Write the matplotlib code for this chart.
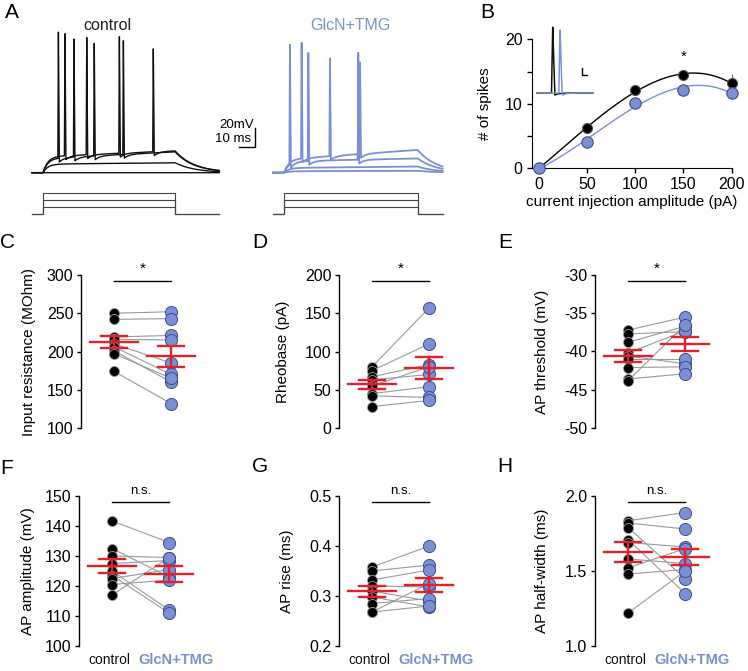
import numpy as np
import matplotlib
matplotlib.use('Agg')
import matplotlib.pyplot as plt
import matplotlib.transforms as mtrans

plt.rcParams['font.family'] = ['Liberation Sans', 'DejaVu Sans']
plt.rcParams['axes.unicode_minus'] = False

W, H = 748, 671
fig = plt.figure(figsize=(W / 100, H / 100), dpi=100)

BLUE = '#7b8fd4'
BLUE_EDGE = '#3f4f8c'
RED = '#e5202a'
LGRAY = '#9a9a9a'

# ---------------- data ----------------
groups = ['control', 'GlcN+TMG']

# Panel A (ms, mV above rest)
step_on_ms = 6.9
step_off_ms = [89.4, 90.4]
trace_end_ms = [117.0, 106.0]
right_offset_ms = 150.6
plateau_ctrl = [(0, 0), (9, 10.5), (15, 22), (17, 23)]
spikes_ctrl = [[], [], [16.5, 26.25, 38.9, 57.1], [20.6, 34.2, 54.6, 75.8]]
peaks_ctrl = [[], [], [148, 141, 138, 140], [148, 144, 145, 132]]
plateau_glcn = [(1.5, 2), (5, 6.5), (12, 15), (14, 24)]
spikes_glcn = [[], [], [10.6, 22.1, 53.3], [17.9, 35.6, 54.4]]
peaks_glcn = [[], [], [135, 127, 128], [137, 121, 117]]
stim_pA = [50, 100, 150]
scalebar_mV = 20
scalebar_ms = 10

# Panel B
curr_pA = [0, 50, 100, 150, 200]
spk_ctrl = [0, 6.2, 12.1, 14.5, 13.2]
spk_ctrl_sem = [0, 0.4, 0.5, 0.6, 1.4]
spk_glcn = [0, 4.1, 10.2, 12.2, 11.7]
spk_glcn_sem = [0, 0.5, 0.5, 0.6, 1.0]

# Panels C-H (paired values)
rin_ctrl = [250, 242, 219, 216, 210, 206, 201, 197, 174]
rin_glcn = [252, 243, 221, 215, 185, 170, 160, 165, 132]
rheo_ctrl = [80, 75, 67, 63, 55, 45, 42, 28]
rheo_glcn = [157, 110, 83, 70, 80, 54, 40, 36]
thr_ctrl = [-37.2, -37.7, -38.8, -40.2, -40.6, -41.0, -42.1, -43.6, -43.8]
thr_glcn = [-35.5, -37.4, -36.7, -37.3, -41.6, -41.0, -42.0, -42.9, -36.5]
amp_ctrl = [141.7, 132.5, 130.0, 127.5, 125.0, 123.5, 122.5, 120.5, 117.0]
amp_glcn = [134.5, 123.0, 129.5, 128.5, 112.0, 111.0, 125.5, 122.0, 129.5]
rise_ctrl = [0.358, 0.350, 0.332, 0.320, 0.310, 0.298, 0.285, 0.268, 0.268]
rise_glcn = [0.400, 0.362, 0.352, 0.318, 0.290, 0.278, 0.295, 0.280, 0.325]
hw_ctrl = [1.835, 1.82, 1.79, 1.71, 1.69, 1.58, 1.52, 1.48, 1.22]
hw_glcn = [1.89, 1.78, 1.45, 1.35, 1.66, 1.55, 1.65, 1.51, 1.50]


def ax_px(x0, y0, x1, y1):
    return fig.add_axes([x0 / W, 1 - y1 / H, (x1 - x0) / W, (y1 - y0) / H])


def ftxt(x, y, s, **kw):
    return fig.text(x / W, 1 - y / H, s, **kw)


def make_trace(t, on, off, p0, p1, spk, pk, tau_on=3.0, tau_off=12.0):
    v = np.zeros_like(t)
    dur = off - on
    during = (t >= on) & (t < off)
    lvl = p0 + (p1 - p0) * (t - on) / dur
    v[during] = (lvl * (1 - np.exp(-(t - on) / tau_on)))[during]
    v_off = p1 * (1 - np.exp(-dur / tau_on))
    after = t >= off
    v[after] = v_off * np.exp(-(t[after] - off) / tau_off)
    for ts, p in zip(spk, pk):
        base = np.interp(ts, t, v)
        rise = (t >= ts - 0.35) & (t < ts)
        v[rise] += (p - base) * (t[rise] - (ts - 0.35)) / 0.35
        fall = (t >= ts) & (t < ts + 0.6)
        v[fall] += (p - base) * (1 - (t[fall] - ts) / 0.6)
        ahp = (t >= ts + 0.6) & (t < off)
        v[ahp] -= 4 * np.exp(-(t[ahp] - ts - 0.6) / 3)
    return v


# ---------------- Panel A ----------------
axA = ax_px(30, 20, 445, 222)
axA.set_xlim(-1.25, 258.1)
axA.set_ylim(-51.9, 160.7)
axA.axis('off')

stim_base = -43.5
stim_scale = 22.5 / 150
for gi, (plats, spks, pks, col, lw) in enumerate([
        (plateau_ctrl, spikes_ctrl, peaks_ctrl, '#111111', 1.0),
        (plateau_glcn, spikes_glcn, peaks_glcn, BLUE, 1.3)]):
    off = step_off_ms[gi]
    tend = trace_end_ms[gi]
    x0 = right_offset_ms * gi
    t = np.linspace(0, tend, 6000)
    for (p0, p1), s, pk in zip(plats, spks, pks):
        v = make_trace(t, step_on_ms, off, p0, p1, s, pk)
        axA.plot(t + x0, v, color=col, lw=lw)
    for a in stim_pA:
        lv = stim_base + a * stim_scale
        xs = np.array([0, step_on_ms, step_on_ms, off, off, tend]) + x0
        ys = [stim_base, stim_base, lv, lv, stim_base, stim_base]
        axA.plot(xs, ys, color='#444444', lw=0.8)

# scale bar
sb_x, sb_y = 139.4, 27.4
axA.plot([sb_x - scalebar_ms, sb_x, sb_x], [sb_y, sb_y, sb_y + scalebar_mV],
         color='black', lw=1.0)
ftxt(254, 125, '20mV', ha='right', va='center', fontsize=9.5)
ftxt(251, 139, '10 ms', ha='right', va='center', fontsize=9.5)
ftxt(107, 25, 'control', ha='center', va='center', fontsize=11.5, color='#222222')
ftxt(350, 25, 'GlcN+TMG', ha='center', va='center', fontsize=11.5, color=BLUE)
ftxt(12, 13, 'A', ha='center', va='center', fontsize=15)

# ---------------- Panel B ----------------
axB = ax_px(531.7, 39.3, 731.7, 168.3)
axB.set_xlim(-7.3, 200)
axB.set_ylim(0, 20)
for sp in ['top', 'right']:
    axB.spines[sp].set_visible(False)
axB.set_xticks([0, 50, 100, 150, 200])
axB.set_yticks([0, 10, 20])
axB.yaxis.set_minor_locator(matplotlib.ticker.FixedLocator([5, 15]))
axB.tick_params(which='both', direction='out', length=3.5, width=1,
                labelsize=11.5, pad=3)
axB.tick_params(which='minor', length=3.5)
xf = np.linspace(0, 200, 200)
for ys, es, mfc, mec, lc, ms in [(spk_ctrl, spk_ctrl_sem, 'black', '#555555', 'black', 7.2),
                                 (spk_glcn, spk_glcn_sem, BLUE, BLUE_EDGE, BLUE, 8.2)]:
    coef = np.polyfit(curr_pA, ys, 3)
    axB.plot(xf, np.polyval(coef, xf), color=lc, lw=1.0, clip_on=False, zorder=2)
    axB.errorbar(curr_pA, ys, yerr=es, fmt='none', ecolor='#666666', elinewidth=0.8,
                 capsize=0, clip_on=False, zorder=2)
    axB.plot(curr_pA, ys, 'o', ms=ms, mfc=mfc, mec=mec, mew=0.8, clip_on=False, zorder=3)
axB.text(150, 17.3, '*', ha='center', va='center', fontsize=11)
axB.set_ylabel('# of spikes', fontsize=11)
axB.set_xlabel('current injection amplitude (pA)', fontsize=11, labelpad=2)
axB.yaxis.set_label_coords(-0.2, 0.5)
ftxt(487, 12, 'B', ha='center', va='center', fontsize=15)

# inset
axI = ax_px(535, 22, 597, 100)
axI.set_xlim(0, 62)
axI.set_ylim(0, 78)
axI.axis('off')
inset_t = np.linspace(2, 58, 2000)
inset_spk_t = [17.7, 25.0]
inset_peak = [73.3, 70.0]
for ts, pk, col in zip(inset_spk_t, inset_peak, ['#111111', BLUE]):
    v = np.full_like(inset_t, 7.0)
    rise = (inset_t >= ts - 1.2) & (inset_t < ts)
    v[rise] = 7 + (pk - 7) * (inset_t[rise] - (ts - 1.2)) / 1.2
    fall = (inset_t >= ts) & (inset_t < ts + 2.2)
    v[fall] = pk - (pk - 5) * (inset_t[fall] - ts) / 2.2
    rec = inset_t >= ts + 2.2
    v[rec] = 7 - 2 * np.exp(-(inset_t[rec] - ts - 2.2) / 4)
    axI.plot(inset_t, v, color=col, lw=1.1)
axI.plot([46.7, 46.7, 51.7], [31.7, 25, 25], color='black', lw=1.0)

# ---------------- Panels C-H ----------------
panels = [
    ('C', rin_ctrl, rin_glcn, 'Input resistance (MOhm)', (100, 300), [100, 150, 200, 250, 300], '*', 81, 275, 428, None),
    ('D', rheo_ctrl, rheo_glcn, 'Rheobase (pA)', (0, 200), [0, 50, 100, 150, 200], '*', 339, 275, 428, None),
    ('E', thr_ctrl, thr_glcn, 'AP threshold (mV)', (-50, -30), [-50, -45, -40, -35, -30], '*', 595, 275, 428, None),
    ('F', amp_ctrl, amp_glcn, 'AP amplitude (mV)', (100, 150), [100, 110, 120, 130, 140, 150], 'n.s.', 79, 496, 646, None),
    ('G', rise_ctrl, rise_glcn, 'AP rise (ms)', (0.2, 0.5), [0.2, 0.3, 0.4, 0.5], 'n.s.', 339, 496, 646, '%.1f'),
    ('H', hw_ctrl, hw_glcn, 'AP half-width (ms)', (1.0, 2.0), [1.0, 1.5, 2.0], 'n.s.', 595, 496, 646, '%.1f'),
]
letter_pos = {'C': (8, 243), 'D': (260, 243), 'E': (505, 243),
              'F': (7, 469), 'G': (260, 466), 'H': (505, 466)}
ylab_x = {'C': -0.40, 'D': -0.43, 'E': -0.41, 'F': -0.39, 'G': -0.40, 'H': -0.41}

for (let, c, g, ylab, ylim, ticks, sig, sx, yt, yb, fmt) in panels:
    ax = ax_px(sx, yt, sx + 130, yb)
    ax.set_xlim(-0.58, 1.70)
    ax.set_ylim(*ylim)
    for sp in ['top', 'right', 'bottom']:
        ax.spines[sp].set_visible(False)
    ax.spines['left'].set_linewidth(1.0)
    ax.set_yticks(ticks)
    if fmt:
        ax.set_yticklabels([fmt % v for v in ticks])
    ax.tick_params(axis='y', direction='out', length=3, width=1, labelsize=11.5, pad=2.5)
    c = np.array(c, float)
    g = np.array(g, float)
    for a, b in zip(c, g):
        ax.plot([0, 1], [a, b], color=LGRAY, lw=0.8, zorder=1)
    ax.scatter(np.zeros_like(c), c, s=52, color='black', edgecolor='#9a9a9a',
               linewidth=0.6, zorder=2, clip_on=False)
    ax.scatter(np.ones_like(g), g, s=76, color=BLUE, edgecolor=BLUE_EDGE,
               linewidth=0.7, zorder=2, clip_on=False)
    for xi, vals in [(0, c), (1, g)]:
        m = vals.mean()
        se = vals.std(ddof=1) / np.sqrt(len(vals))
        ax.plot([xi - 0.42, xi + 0.42], [m, m], color=RED, lw=1.7, zorder=4)
        ax.plot([xi - 0.23, xi + 0.23], [m + se, m + se], color=RED, lw=1.7, zorder=4)
        ax.plot([xi - 0.23, xi + 0.23], [m - se, m - se], color=RED, lw=1.7, zorder=4)
        ax.plot([xi, xi], [m - se, m + se], color=RED, lw=1.7, zorder=4)
    ax.plot([0, 1], [0.963, 0.963], color='black', lw=1.0,
            transform=ax.get_xaxis_transform(), clip_on=False)
    if sig == '*':
        ax.text(0.5, 1.04, '*', ha='center', va='center', fontsize=11,
                transform=ax.get_xaxis_transform())
    else:
        ax.text(0.5, 1.035, 'n.s.', ha='center', va='center', fontsize=9.5,
                transform=ax.get_xaxis_transform())
    ax.set_ylabel(ylab, fontsize=11, va='center')
    ax.yaxis.set_label_coords(ylab_x[let], 0.5)
    ax.set_xticks([])
    if let in 'FGH':
        tr = ax.get_xaxis_transform()
        ax.text(0, -0.09, groups[0], ha='center', va='center', fontsize=10,
                color='#111111',
                transform=tr + mtrans.ScaledTranslation(-3 / 100, 0, fig.dpi_scale_trans))
        ax.text(1, -0.09, groups[1], ha='center', va='center', fontsize=10.5,
                color=BLUE, fontweight='bold',
                transform=tr + mtrans.ScaledTranslation(7 / 100, 0, fig.dpi_scale_trans))
    ftxt(*letter_pos[let], let, ha='center', va='center', fontsize=15)

fig.savefig('out.png', dpi=100)
